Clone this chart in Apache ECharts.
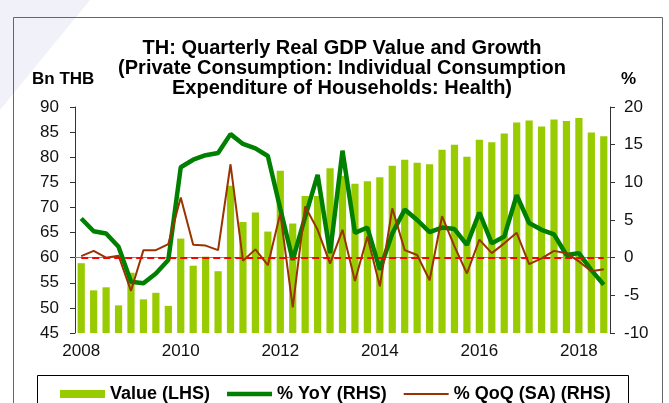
<!DOCTYPE html>
<html>
<head>
<meta charset="utf-8">
<script src="https://cdn.jsdelivr.net/npm/echarts@6/dist/echarts.min.js"></script>
<style>
  html, body { margin: 0; padding: 0; background: #fff; }
  #chart { width: 669px; height: 403px; }
</style>
</head>
<body>
<div id="chart"></div>
<script>
const categories = [
  '2008Q1', '2008Q2', '2008Q3', '2008Q4', '2009Q1', '2009Q2', '2009Q3', '2009Q4',
  '2010Q1', '2010Q2', '2010Q3', '2010Q4', '2011Q1', '2011Q2', '2011Q3', '2011Q4',
  '2012Q1', '2012Q2', '2012Q3', '2012Q4', '2013Q1', '2013Q2', '2013Q3', '2013Q4',
  '2014Q1', '2014Q2', '2014Q3', '2014Q4', '2015Q1', '2015Q2', '2015Q3', '2015Q4',
  '2016Q1', '2016Q2', '2016Q3', '2016Q4', '2017Q1', '2017Q2', '2017Q3', '2017Q4',
  '2018Q1', '2018Q2', '2018Q3',
]
const yearLabels = ['2008', '2010', '2012', '2014', '2016', '2018']

// Bn THB (LHS)
const valueLHS = [
  58.9, 53.5, 54.1, 50.5, 57.0, 51.7, 53.0, 50.4,
  63.8, 58.4, 60.2, 57.3, 74.3, 67.1, 69.0, 65.2,
  77.3, 66.8, 72.3, 72.3, 77.8, 76.3, 74.7, 75.2,
  76.0, 78.3, 79.5, 78.9, 78.6, 81.5, 82.5, 80.1,
  83.5, 83.0, 84.7, 86.9, 87.3, 86.1, 87.5, 87.2,
  87.8, 84.9, 84.2,
]
// % (RHS)
const yoy = [
  5.2, 3.5, 3.2, 1.45, -3.2, -3.4, -2.1, -0.3,
  12.0, 13.0, 13.6, 13.9, 16.4, 15.1, 14.5, 13.5,
  6.5, -0.3, 5.4, 11.0, 0.6, 14.2, 3.3, 4.0,
  -1.6, 3.2, 6.4, 5.0, 3.4, 4.0, 3.8, 1.7,
  6.0, 1.9, 2.8, 8.3, 4.6, 3.7, 3.1, 0.35,
  0.6, -1.65, -3.6,
]
const qoq = [
  0.2, 0.9, 0.0, 0.25, -4.4, 1.0, 1.0, 1.8,
  8.0, 1.7, 1.6, 1.0, 12.4, -0.4, 1.1, -1.0,
  5.9, -6.6, 6.8, 3.7, -0.8, 3.7, -3.1, 2.8,
  -3.8, 6.55, 1.0, 0.35, -3.0, 5.5, 1.5, -2.1,
  2.4, 0.6, 1.9, 3.3, -0.85, -0.1, 0.9, 0.6,
  -0.5, -1.8, -1.55,
]

const FONT = 'Liberation Sans, Arial, sans-serif'
const axisColor = '#333'

const options = {
  animation: false,
  textStyle: { fontFamily: FONT },
  title: {
    text: 'TH: Quarterly Real GDP Value and Growth\n(Private Consumption: Individual Consumption\nExpenditure of Households: Health)',
    left: 337,
    top: 33,
    textAlign: 'center',
    textStyle: {
      fontFamily: FONT,
      fontSize: 20,
      fontWeight: 'bold',
      lineHeight: 20,
      color: '#000',
    },
  },
  graphic: [
    {
      type: 'polygon',
      silent: true,
      z: -10,
      shape: { points: [[0, 0], [90, 0], [0, 110]] },
      style: { fill: '#f1f2f9' },
    },
    {
      type: 'rect',
      silent: true,
      shape: { x: 13.5, y: 17.5, width: 649, height: 400 },
      style: { fill: 'none', stroke: '#666', lineWidth: 1 },
    },
    {
      type: 'rect',
      silent: true,
      shape: { x: 37.5, y: 375.5, width: 591, height: 40 },
      style: { fill: '#fff', stroke: '#000', lineWidth: 1 },
    },
    {
      type: 'text',
      left: 32,
      top: 71,
      style: { text: 'Bn THB', font: 'bold 17px ' + FONT, fill: '#000' },
    },
    {
      type: 'text',
      left: 621,
      top: 71,
      style: { text: '%', font: 'bold 17px ' + FONT, fill: '#000' },
    },
  ],
  legend: {
    left: 55,
    top: 380,
    itemWidth: 45,
    itemHeight: 8,
    itemGap: 17,
    textStyle: { fontFamily: FONT, fontSize: 18, fontWeight: 'bold', color: '#000' },
    data: [
      { name: 'Value (LHS)', icon: 'rect' },
      { name: '% YoY (RHS)', icon: 'path://M0,0H45V4.5H0Z' },
      { name: '% QoQ (SA) (RHS)', icon: 'path://M0,0H45V2H0Z' },
    ],
  },
  grid: {
    left: 75,
    right: 59,
    top: 107,
    bottom: 70,
  },
  xAxis: {
    type: 'category',
    data: categories,
    boundaryGap: true,
    axisLine: { lineStyle: { color: '#888', width: 1 } },
    axisTick: { interval: 3, length: 5, lineStyle: { color: axisColor } },
    axisLabel: {
      interval: 0,
      margin: 10,
      color: '#111',
      fontSize: 17,
      formatter: function (v) {
        const y = v.slice(0, 4)
        return v.endsWith('Q1') && yearLabels.includes(y) ? y : ''
      },
    },
    splitLine: { show: false },
  },
  yAxis: [
    {
      type: 'value',
      min: 45,
      max: 90,
      interval: 5,
      position: 'left',
      axisLine: { show: true, lineStyle: { color: axisColor } },
      axisTick: { show: true, length: 5, lineStyle: { color: axisColor } },
      axisLabel: { margin: 16, color: '#111', fontSize: 17 },
      splitLine: { show: false },
    },
    {
      type: 'value',
      min: -10,
      max: 20,
      interval: 5,
      position: 'right',
      axisLine: { show: true, lineStyle: { color: axisColor } },
      axisTick: { show: true, length: 5, lineStyle: { color: axisColor } },
      axisLabel: { margin: 14, color: '#111', fontSize: 17 },
      splitLine: { show: false },
    },
  ],
  series: [
    {
      name: 'Value (LHS)',
      type: 'bar',
      yAxisIndex: 0,
      data: valueLHS,
      barWidth: '58%',
      itemStyle: { color: '#99cc00' },
    },
    {
      name: '% YoY (RHS)',
      type: 'line',
      yAxisIndex: 1,
      data: yoy,
      symbol: 'none',
      lineStyle: { color: '#008000', width: 4.5 },
      itemStyle: { color: '#008000' },
    },
    {
      name: '% QoQ (SA) (RHS)',
      type: 'line',
      yAxisIndex: 1,
      data: qoq,
      symbol: 'none',
      lineStyle: { color: '#993300', width: 2 },
      itemStyle: { color: '#993300' },
      markLine: {
        silent: true,
        symbol: 'none',
        label: { show: false },
        lineStyle: { color: '#ff0000', type: [7, 4], width: 2 },
        data: [[
          { coord: [categories[0], 0] },
          { coord: [categories[categories.length - 1], 0] },
        ]],
      },
    },
  ],
}

const chart = echarts.init(document.getElementById('chart'))
chart.setOption(options)
window.onresize = function () {
  chart.resize()
}
</script>
</body>
</html>
